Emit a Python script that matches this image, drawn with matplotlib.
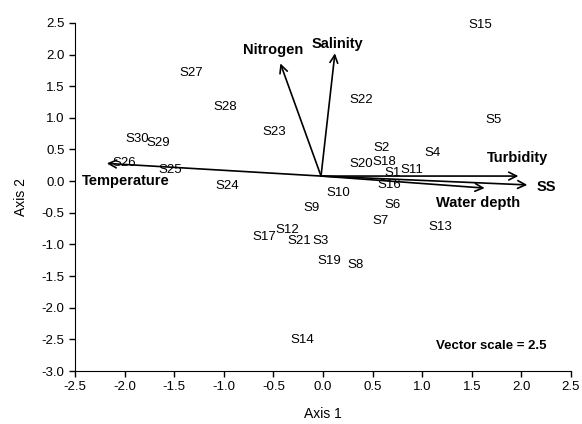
import matplotlib.pyplot as plt

plt.rcParams['font.family'] = ['Liberation Sans', 'DejaVu Sans']

# site scores (label positions)
sites = ["S1", "S2", "S3", "S4", "S5", "S6", "S7", "S8", "S9", "S10",
         "S11", "S12", "S13", "S14", "S15", "S16", "S17", "S18", "S19", "S20",
         "S21", "S22", "S23", "S24", "S25", "S26", "S27", "S28", "S29", "S30"]
site_x = [0.70, 0.59, -0.02, 1.10, 1.72, 0.70, 0.58, 0.33, -0.12, 0.15,
          0.90, -0.36, 1.18, -0.21, 1.59, 0.67, -0.59, 0.62, 0.06, 0.39,
          -0.24, 0.39, -0.49, -0.97, -1.54, -2.00, -1.33, -0.99, -1.66, -1.87]
site_y = [0.13, 0.52, -0.95, 0.44, 0.96, -0.38, -0.63, -1.33, -0.43, -0.19,
          0.17, -0.77, -0.73, -2.51, 2.47, -0.06, -0.88, 0.30, -1.26, 0.27,
          -0.95, 1.28, 0.77, -0.08, 0.17, 0.28, 1.71, 1.17, 0.60, 0.66]

# environmental vectors
vec_names = ["Nitrogen", "Salinity", "Temperature", "Turbidity", "SS", "Water depth"]
vec_x = [-0.43, 0.12, -2.18, 1.97, 2.06, 1.63]
vec_y = [1.86, 2.02, 0.28, 0.08, -0.06, -0.11]
vec_label_x = [-0.50, 0.15, -1.99, 1.96, 2.25, 1.56]
vec_label_y = [2.07, 2.17, 0.00, 0.36, -0.10, -0.35]
origin = (-0.02, 0.08)

fig = plt.figure(figsize=(5.82, 4.24), dpi=100)
ax = fig.add_axes([0.129, 0.125, 0.852, 0.821])

for name, x, y in zip(sites, site_x, site_y):
    ax.text(x, y, name, ha="center", va="center", fontsize=9.5)

for name, x, y, lx, ly in zip(vec_names, vec_x, vec_y, vec_label_x, vec_label_y):
    ax.annotate("", xy=(x, y), xytext=origin,
                arrowprops=dict(arrowstyle="->", color="black", lw=1.2,
                                mutation_scale=14, shrinkA=0, shrinkB=0))
    ax.text(lx, ly, name, ha="center", va="center", fontsize=10.5, fontweight="bold")

ax.text(1.70, -2.6, "Vector scale = 2.5", ha="center", va="center",
        fontsize=9.5, fontweight="bold")

ax.set_xlim(-2.5, 2.5)
ax.set_ylim(-3.0, 2.5)
ax.set_xticks([-2.5, -2.0, -1.5, -1.0, -0.5, 0.0, 0.5, 1.0, 1.5, 2.0, 2.5])
ax.set_yticks([-3.0, -2.5, -2.0, -1.5, -1.0, -0.5, 0.0, 0.5, 1.0, 1.5, 2.0, 2.5])
ax.xaxis.set_major_formatter(plt.FormatStrFormatter("%.1f"))
ax.yaxis.set_major_formatter(plt.FormatStrFormatter("%.1f"))
ax.tick_params(direction="out", length=4, width=1, labelsize=9.5)
ax.spines["top"].set_visible(False)
ax.spines["right"].set_visible(False)
ax.set_xlabel("Axis 1", fontsize=10, labelpad=10)
ax.set_ylabel("Axis 2", fontsize=10, labelpad=10)

fig.savefig("out.png", dpi=100)
